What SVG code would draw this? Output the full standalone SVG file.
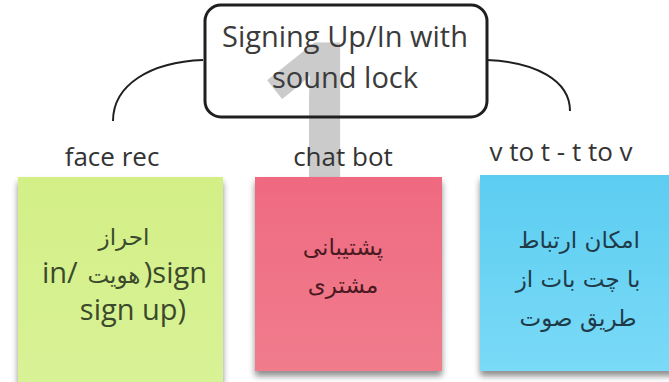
<svg xmlns="http://www.w3.org/2000/svg" width="669" height="382" viewBox="0 0 669 382">
<style>
.title{font-family:"Open Sans","Liberation Sans",sans-serif;font-size:29px;fill:#3b3b3b;text-anchor:middle}
.label{font-family:"Open Sans","Liberation Sans",sans-serif;font-size:26px;fill:#333;text-anchor:middle}
.note{font-family:"Open Sans","DejaVu Sans",sans-serif;font-size:29px}
.ar{font-family:"DejaVu Sans",sans-serif;font-size:23px;text-anchor:middle}
.conn{fill:none;stroke:#1f1f1f;stroke-width:2}
</style>
<defs>
<filter id="sh" x="-10%" y="-10%" width="120%" height="125%">
<feDropShadow dx="0" dy="5" stdDeviation="3" flood-color="#000" flood-opacity="0.45"/>
</filter>
<linearGradient id="gG" x1="0" y1="0" x2="0" y2="1"><stop offset="0" stop-color="#d3ef86"/><stop offset="1" stop-color="#d8f296"/></linearGradient>
<linearGradient id="gP" x1="0" y1="0" x2="0" y2="1"><stop offset="0" stop-color="#ef6a80"/><stop offset="1" stop-color="#f07c8c"/></linearGradient>
<linearGradient id="gB" x1="0" y1="0" x2="0" y2="1"><stop offset="0" stop-color="#5ccdf1"/><stop offset="1" stop-color="#7adaf7"/></linearGradient>
</defs>
<rect width="669" height="382" fill="#fff"/>
<g id="connectors">
<path class="conn" d="M203 60 C150 62 113 85 113 121"/>
<path class="conn" d="M487 60 C535 62 570 80 570 111"/>
</g>
<g id="big-one">
<text x="255" y="190" font-family="'Open Sans',sans-serif" font-weight="700" font-size="206" fill="#cbcbcb">1</text>
</g>
<g id="root">
<rect x="205" y="5" width="282" height="112" rx="16" fill="none" stroke="#1f1f1f" stroke-width="3"/>
<text class="title" x="345" y="47">Signing Up/In with</text>
<text class="title" x="345" y="88">sound lock</text>
</g>
<g id="face-rec">
<text class="label" x="112" y="166">face rec</text>
<rect x="18" y="177" width="205" height="206" fill="url(#gG)" filter="url(#sh)"/>
<text class="ar" x="124" y="245" fill="#3b4a2c">احراز</text>
<text class="note" x="42" y="283" fill="#3b4a2c">in/</text>
<text class="ar" x="114" y="283" font-size="25" fill="#3b4a2c">هویت</text>
<text class="note" x="207" y="283" fill="#3b4a2c" text-anchor="end" style="unicode-bidi:bidi-override;direction:ltr">)sign</text>
<text class="note" x="133" y="320" fill="#3b4a2c" text-anchor="middle">sign up)</text>
</g>
<g id="chat-bot">
<text class="label" x="343" y="166">chat bot</text>
<rect x="255" y="177" width="187" height="194" fill="url(#gP)" filter="url(#sh)"/>
<text class="ar" x="343" y="255" font-size="20" fill="#4a1a22">پشتیبانی</text>
<text class="ar" x="343" y="293" font-size="20" fill="#4a1a22">مشتری</text>
</g>
<g id="v-to-t">
<text class="label" x="561" y="161">v to t - t to v</text>
<rect x="480" y="175" width="195" height="196" fill="url(#gB)" filter="url(#sh)"/>
<text class="ar" x="579" y="248" font-size="25" fill="#1f3b4a">امکان ارتباط</text>
<text class="ar" x="578" y="287" font-size="25" fill="#1f3b4a">با چت بات از</text>
<text class="ar" x="578" y="326" font-size="25" fill="#1f3b4a">طریق صوت</text>
</g>
</svg>
